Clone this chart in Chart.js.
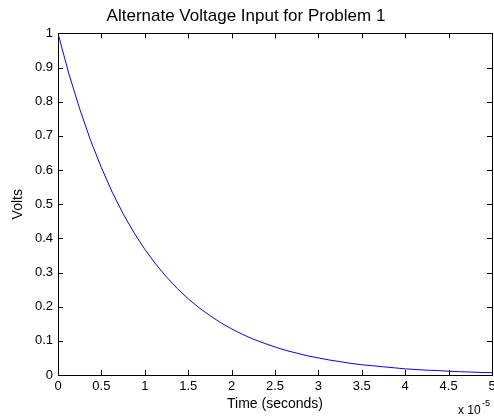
<!DOCTYPE html>
<html>
<head>
<meta charset="utf-8">
<script src="https://cdn.jsdelivr.net/npm/chart.js@4/dist/chart.umd.min.js"></script>
<style>
  html, body { margin: 0; padding: 0; background: #fff; }
  #wrap { width: 494px; height: 419px; }
</style>
</head>
<body>
<div id="wrap"><canvas id="voltagePlot" width="494" height="419"></canvas></div>
<script>
// time in units of 1e-5 seconds (axis shows "x 10^-5")
const timeValues = [0, 0.125, 0.25, 0.375, 0.5, 0.625, 0.75, 0.875, 1, 1.125, 1.25, 1.375, 1.5, 1.625, 1.75, 1.875,
  2, 2.125, 2.25, 2.375, 2.5, 2.625, 2.75, 2.875, 3, 3.125, 3.25, 3.375, 3.5, 3.625, 3.75, 3.875,
  4, 4.125, 4.25, 4.375, 4.5, 4.625, 4.75, 4.875, 5];
const voltValues = [1, 0.882, 0.779, 0.687, 0.607, 0.535, 0.472, 0.417, 0.368, 0.325, 0.287, 0.253, 0.223, 0.197, 0.174, 0.153,
  0.135, 0.119, 0.105, 0.093, 0.082, 0.072, 0.064, 0.056, 0.050, 0.044, 0.039, 0.034, 0.030, 0.027, 0.024, 0.021,
  0.018, 0.016, 0.014, 0.013, 0.011, 0.0097, 0.0087, 0.0075, 0.0067];
const chartTitle = "Alternate Voltage Input for Problem 1";
const xLabel = "Time (seconds)";
const yLabel = "Volts";

const FONT = "'Liberation Sans', Arial, sans-serif";

const boxTicks = {
  id: "boxTicks",
  afterDraw(chart) {
    const ctx = chart.ctx;
    const a = chart.chartArea;
    const xs = chart.scales.x, ys = chart.scales.y;
    ctx.save();
    ctx.strokeStyle = "#000";
    ctx.lineWidth = 1;
    ctx.strokeRect(Math.round(a.left) + 0.5, Math.round(a.top) + 0.5,
      Math.round(a.right - a.left), Math.round(a.bottom - a.top));
    ctx.beginPath();
    xs.ticks.forEach(t => {
      const px = Math.round(xs.getPixelForValue(t.value)) + 0.5;
      ctx.moveTo(px, a.bottom); ctx.lineTo(px, a.bottom - 5);
      ctx.moveTo(px, a.top); ctx.lineTo(px, a.top + 5);
    });
    ys.ticks.forEach(t => {
      const py = Math.round(ys.getPixelForValue(t.value)) + 0.5;
      ctx.moveTo(a.left, py); ctx.lineTo(a.left + 5, py);
      ctx.moveTo(a.right, py); ctx.lineTo(a.right - 5, py);
    });
    ctx.stroke();
    // exponent note
    ctx.fillStyle = "#000";
    ctx.font = "12px " + FONT;
    ctx.textAlign = "left";
    ctx.textBaseline = "alphabetic";
    ctx.fillText("x 10", 458, 414);
    ctx.font = "9px " + FONT;
    ctx.fillText("-5", 482, 406);
    ctx.restore();
  }
};

new Chart(document.getElementById("voltagePlot").getContext("2d"), {
  type: "line",
  data: {
    datasets: [{
      data: timeValues.map((t, i) => ({ x: t, y: voltValues[i] })),
      borderColor: "#0000ff",
      borderWidth: 1,
      pointRadius: 0,
      tension: 0,
      fill: false
    }]
  },
  options: {
    responsive: false,
    animation: false,
    layout: { padding: { left: 0, right: 2, top: 0, bottom: 0 } },
    plugins: {
      legend: { display: false },
      tooltip: { enabled: false },
      title: {
        display: true,
        text: chartTitle,
        color: "#000",
        font: { family: FONT, size: 17, weight: "normal" },
        padding: { top: 6, bottom: 7 }
      }
    },
    scales: {
      x: {
        type: "linear",
        min: 0, max: 5,
        ticks: {
          stepSize: 0.5, color: "#000", font: { family: FONT, size: 13 }, padding: 4, maxRotation: 0,
          callback: v => String(Math.round(v * 10) / 10)
        },
        grid: { display: false, drawTicks: false },
        border: { display: false },
        title: { display: true, text: xLabel, color: "#000", font: { family: FONT, size: 14 }, padding: { top: 1, bottom: 6 } },
        afterFit(scale) { scale.height = 44; scale.paddingRight = 0; }
      },
      y: {
        min: 0, max: 1,
        ticks: {
          stepSize: 0.1, color: "#000", font: { family: FONT, size: 13 }, padding: 5,
          callback: v => String(Math.round(v * 10) / 10)
        },
        grid: { display: false, drawTicks: false },
        border: { display: false },
        title: { display: true, text: yLabel, color: "#000", font: { family: FONT, size: 14 }, padding: { top: 10, bottom: 0 } },
        afterFit(scale) { scale.width = 58; }
      }
    }
  },
  plugins: [boxTicks]
});
</script>
</body>
</html>
